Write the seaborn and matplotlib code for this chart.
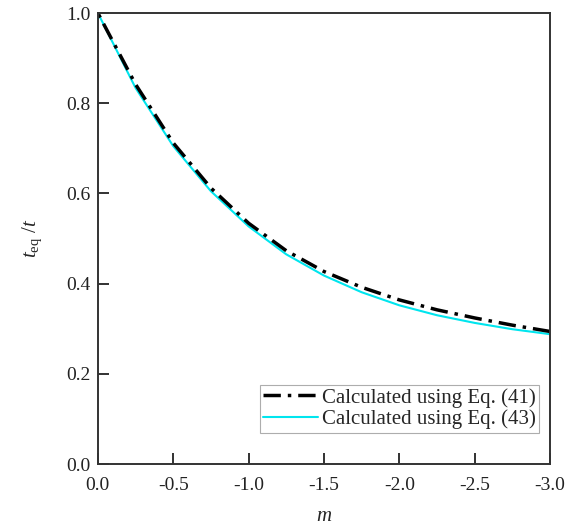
import numpy as np
import pandas as pd
import matplotlib
matplotlib.use('Agg')
import matplotlib.pyplot as plt
from matplotlib.lines import Line2D
import seaborn as sns

# values
m_vals = [0.0, -0.25, -0.5, -0.75, -1.0, -1.25, -1.5, -1.75, -2.0, -2.25, -2.5, -2.75, -3.0]
eq41 = [1.0, 0.842, 0.712, 0.612, 0.534, 0.473, 0.427, 0.392, 0.364, 0.342, 0.324, 0.308, 0.294]
eq43 = [1.0, 0.834, 0.705, 0.605, 0.527, 0.465, 0.418, 0.381, 0.352, 0.330, 0.313, 0.299, 0.288]
labels = ['Calculated using Eq. (41)', 'Calculated using Eq. (43)']

x_ticks = [0.0, -0.5, -1.0, -1.5, -2.0, -2.5, -3.0]
y_ticks = [0.0, 0.2, 0.4, 0.6, 0.8, 1.0]

df = pd.DataFrame({'m': m_vals + m_vals,
                   'ratio': eq41 + eq43,
                   'series': [labels[0]] * len(m_vals) + [labels[1]] * len(m_vals)})

sns.set_style('ticks')
plt.rcParams['font.family'] = ['Liberation Serif', 'DejaVu Serif']
plt.rcParams['mathtext.fontset'] = 'custom'
plt.rcParams['mathtext.rm'] = 'Liberation Serif'
plt.rcParams['mathtext.it'] = 'Liberation Serif:italic'

fig = plt.figure(figsize=(5.79, 5.31), dpi=100)
ax = fig.add_axes([0.169, 0.126, 0.781, 0.8495])

dash = (5, 2, 1, 2)
sns.lineplot(data=df, x='m', y='ratio', hue='series', style='series',
             palette=['black', '#00e5ee'], dashes=[dash, ''],
             ax=ax, legend=False)
lines = ax.get_lines()
lines[0].set_linewidth(2.5)
lines[1].set_linewidth(1.5)
lines[1].set_zorder(1)
lines[0].set_zorder(2)

ax.set_xlim(0, -3.0)
ax.set_ylim(0, 1.0)
ax.set_xticks(x_ticks)
ax.set_yticks(y_ticks)
ax.set_xticklabels([f'{v:.1f}' for v in x_ticks])
ax.set_yticklabels([f'{v:.1f}' for v in y_ticks])
ax.tick_params(direction='in', length=8, width=1.3, labelsize=14, colors='#222222',
               labelcolor='#222222', pad=5)
ax.tick_params(axis='x', pad=9)

for sp in ax.spines.values():
    sp.set_visible(True)
    sp.set_linewidth(1.4)
    sp.set_color('#333333')

ax.set_xlabel('$m$', fontsize=15, labelpad=10)
ax.set_ylabel(r'$t_{\rm eq}$ /$t$', fontsize=15, labelpad=16)

handles = [Line2D([], [], color='black', lw=2.5, dashes=dash),
           Line2D([], [], color='#00e5ee', lw=1.5)]
leg = ax.legend(handles, labels, loc='lower right', bbox_to_anchor=(0.975, 0.07),
                fontsize=15, frameon=True, fancybox=False, handlelength=2.6,
                handletextpad=0.2, borderpad=0.15, labelspacing=0.1, borderaxespad=0)
leg.get_frame().set_edgecolor('#999999')
leg.get_frame().set_linewidth(0.8)

fig.savefig('out.png', dpi=100)
